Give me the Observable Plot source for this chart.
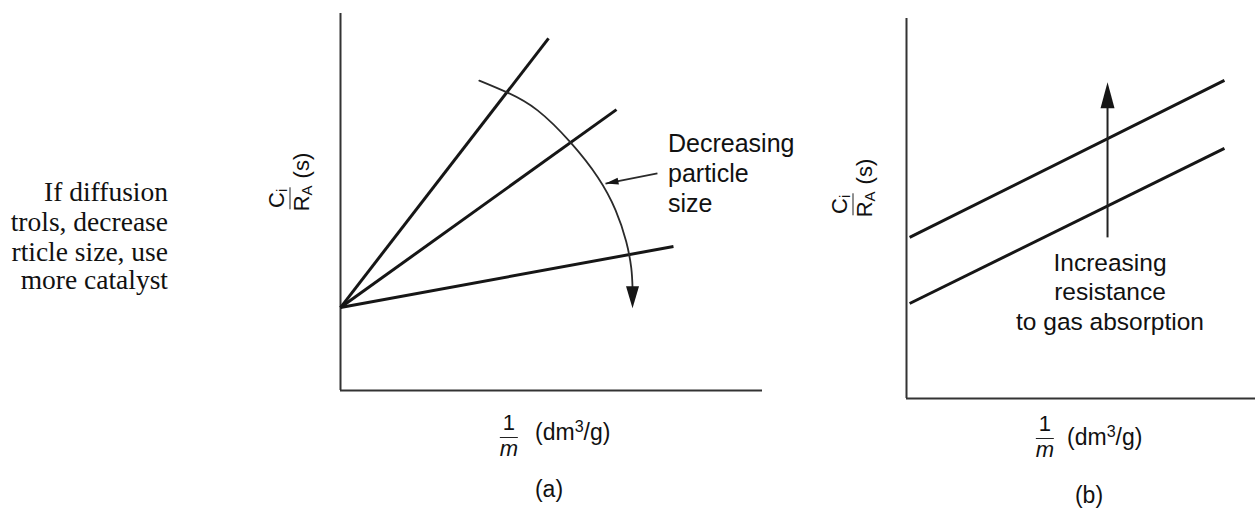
<!DOCTYPE html>
<html><head><meta charset="utf-8">
<script src="https://cdn.jsdelivr.net/npm/d3@7"></script>
<script src="https://cdn.jsdelivr.net/npm/@observablehq/plot@0.6"></script>
<style>
html,body{margin:0;padding:0;background:#fff;}
#root{position:relative;width:1255px;height:510px;overflow:hidden;background:#fff;}
.t{position:absolute;white-space:nowrap;color:#111;font-family:"Liberation Sans",Arial,Helvetica,sans-serif;}
.serif{font-family:"Liberation Serif","Times New Roman",serif;}
.panel{position:absolute;top:0;}
.frac{position:absolute;display:flex;flex-direction:column;align-items:center;transform:translateX(-50%);color:#111;font-family:"Liberation Sans",Arial,sans-serif;font-size:22px;}
.frac .num{line-height:22px;padding:0 3px 3px;border-bottom:1.5px solid #222;}
.frac .den{line-height:22px;font-style:italic;}
.ylab{position:absolute;display:flex;align-items:flex-end;white-space:nowrap;color:#111;font-family:"Liberation Sans",Arial,sans-serif;font-size:22px;transform:translate(-50%,-50%) rotate(-90deg);}
.ylab .yf{display:flex;flex-direction:column;align-items:center;}
.ylab .yn{line-height:22px;padding:0 1px 2px;border-bottom:1.5px solid #222;}
.ylab .yd{line-height:22px;}
.ylab sub{font-size:15px;line-height:0;vertical-align:-0.2em;}
.ylab .ys{line-height:22px;margin-left:7px;}
</style></head><body><div id="root"></div><script>
// ---------- Panel (a): C_i/R_A vs 1/m for decreasing particle size ----------
const seriesA = ["large particles", "medium particles", "small particles"];
const aStartX = [0, 0, 0];
const aStartY = [0.22, 0.22, 0.22];
const aEndX = [0.493, 0.654, 0.789];
const aEndY = [0.934, 0.745, 0.382];
// curved "decreasing particle size" arrow
const arcX = [0.329, 0.396, 0.467, 0.545, 0.610, 0.652, 0.677, 0.689, 0.692];
const arcY = [0.822, 0.790, 0.743, 0.658, 0.565, 0.478, 0.395, 0.325, 0.273];
const arcTipX = [0.692];
const arcTipY = [0.218];
// short pointer from the label to the arc
const pointerX = [0.751, 0.628];
const pointerY = [0.576, 0.549];

// ---------- Panel (b): increasing gas absorption resistance ----------
const seriesB = ["higher resistance", "lower resistance"];
const bStartX = [0.009, 0.009];
const bStartY = [0.424, 0.25];
const bEndX = [0.911, 0.911];
const bEndY = [0.837, 0.658];
const bArrowX = [0.576, 0.576];
const bArrowY = [0.424, 0.766];
const bArrowTipY = [0.832];

// ---------- Text ----------
const sideNote = ["If diffusion", "trols, decrease", "rticle size, use", "more catalyst"];
const labelA = ["Decreasing", "particle", "size"];
const labelB = ["Increasing", "resistance", "to gas absorption"];
const xUnit = "(dm<sup style='font-size:0.7em;vertical-align:0.5em;line-height:0'>3</sup>/g)";
const panelNames = ["(a)", "(b)"];

const root = document.getElementById("root");
const ink = "#161616";

function arrowHead(dx, dy, L, W) {
  const n = Math.hypot(dx, dy), ux = dx / n, uy = dy / n;
  return {
    draw(c) {
      c.moveTo(0, 0);
      c.lineTo(-ux * L - uy * W / 2, -uy * L + ux * W / 2);
      c.lineTo(-ux * L + uy * W / 2, -uy * L - ux * W / 2);
      c.closePath();
    }
  };
}

const linesA = seriesA.map((s, i) => ({s, x1: aStartX[i], y1: aStartY[i], x2: aEndX[i], y2: aEndY[i]}));
const arc = arcX.map((x, i) => ({x, y: arcY[i]}));
const arcTip = arcTipX.map((x, i) => ({x, y: arcTipY[i]}));
const pointer = [{x1: pointerX[0], y1: pointerY[0], x2: pointerX[1], y2: pointerY[1]}];
const pointerTip = [{x: pointerX[1], y: pointerY[1]}];

const plotA = Plot.plot({
  width: 440, height: 400,
  marginLeft: 10, marginRight: 8, marginTop: 13, marginBottom: 10,
  x: {domain: [0, 1], axis: null},
  y: {domain: [0, 1], axis: null},
  marks: [
    Plot.ruleX([0], {stroke: "#333", strokeWidth: 2}),
    Plot.ruleY([0], {stroke: "#333", strokeWidth: 2}),
    Plot.link(linesA, {x1: "x1", y1: "y1", x2: "x2", y2: "y2", stroke: ink, strokeWidth: 3}),
    Plot.line(arc, {x: "x", y: "y", curve: "natural", stroke: "#2a2a2a", strokeWidth: 1.8}),
    Plot.dot(arcTip, {x: "x", y: "y", symbol: arrowHead(0, 1, 22, 13), fill: ink, stroke: "none", r: 6}),
    Plot.link(pointer, {x1: "x1", y1: "y1", x2: "x2", y2: "y2", stroke: "#2a2a2a", strokeWidth: 1.8}),
    Plot.dot(pointerTip, {x: "x", y: "y", symbol: arrowHead(-52, 10, 13, 7), fill: ink, stroke: "none", r: 4})
  ]
});
plotA.classList.add("panel");
plotA.style.left = "330px";
root.append(plotA);

const linesB = seriesB.map((s, i) => ({s, x1: bStartX[i], y1: bStartY[i], x2: bEndX[i], y2: bEndY[i]}));
const arrowB = [{x1: bArrowX[0], y1: bArrowY[0], x2: bArrowX[1], y2: bArrowY[1]}];
const arrowBTip = [{x: bArrowX[0], y: bArrowTipY[0]}];

const plotB = Plot.plot({
  width: 359, height: 410,
  marginLeft: 10, marginRight: 0, marginTop: 18, marginBottom: 12,
  x: {domain: [0, 1], axis: null},
  y: {domain: [0, 1], axis: null},
  marks: [
    Plot.ruleX([0], {stroke: "#333", strokeWidth: 2}),
    Plot.ruleY([0], {stroke: "#333", strokeWidth: 2}),
    Plot.link(linesB, {x1: "x1", y1: "y1", x2: "x2", y2: "y2", stroke: ink, strokeWidth: 3}),
    Plot.link(arrowB, {x1: "x1", y1: "y1", x2: "x2", y2: "y2", stroke: "#222", strokeWidth: 2}),
    Plot.dot(arrowBTip, {x: "x", y: "y", symbol: arrowHead(0, -1, 26, 14), fill: ink, stroke: "none", r: 6})
  ]
});
plotB.classList.add("panel");
plotB.style.left = "896px";
root.append(plotB);

// ---------- text helpers ----------
function txt(html, x, base, opt = {}) {
  const {anchor = "start", size = 23, serif = false} = opt;
  const asc = serif ? 0.891 : 0.905, lh = serif ? 1.107 : 1.117;
  const d = document.createElement("div");
  d.className = "t" + (serif ? " serif" : "");
  d.style.fontSize = size + "px";
  d.style.lineHeight = (lh * size) + "px";
  d.style.left = x + "px";
  d.style.top = (base - asc * size) + "px";
  if (anchor === "middle") d.style.transform = "translateX(-50%)";
  else if (anchor === "end") d.style.transform = "translateX(-100%)";
  d.innerHTML = html;
  root.append(d);
  return d;
}
function frac(cx, top) {
  const d = document.createElement("div");
  d.className = "frac";
  d.style.left = cx + "px";
  d.style.top = top + "px";
  d.innerHTML = "<div class='num'>1</div><div class='den'>m</div>";
  root.append(d);
}
function ylab(cx, cy) {
  const d = document.createElement("div");
  d.className = "ylab";
  d.style.left = cx + "px";
  d.style.top = cy + "px";
  d.innerHTML = "<div class='yf'><div class='yn'>C<sub>i</sub></div><div class='yd'>R<sub>A</sub></div></div><div class='ys'>(s)</div>";
  root.append(d);
}

// side note (cropped in the original)
const noteBase = [202, 232, 262, 290];
sideNote.forEach((s, i) => txt(s, 168, noteBase[i], {anchor: "end", size: 27.5, serif: true}));

// panel (a) labels
ylab(289, 182);
const aLabBase = [153, 183, 213];
labelA.forEach((s, i) => txt(s, 668, aLabBase[i], {size: 25}));
frac(509, 412);
txt(xUnit, 535, 441, {size: 23});
txt(panelNames[0], 549, 498, {anchor: "middle", size: 23});

// panel (b) labels
ylab(852, 188);
const bLabBase = [271, 300, 330];
labelB.forEach((s, i) => txt(s, 1110, bLabBase[i], {anchor: "middle", size: 24.5}));
frac(1045, 413);
txt(xUnit, 1067, 446, {size: 23});
txt(panelNames[1], 1089, 504, {anchor: "middle", size: 23});
</script></body></html>
